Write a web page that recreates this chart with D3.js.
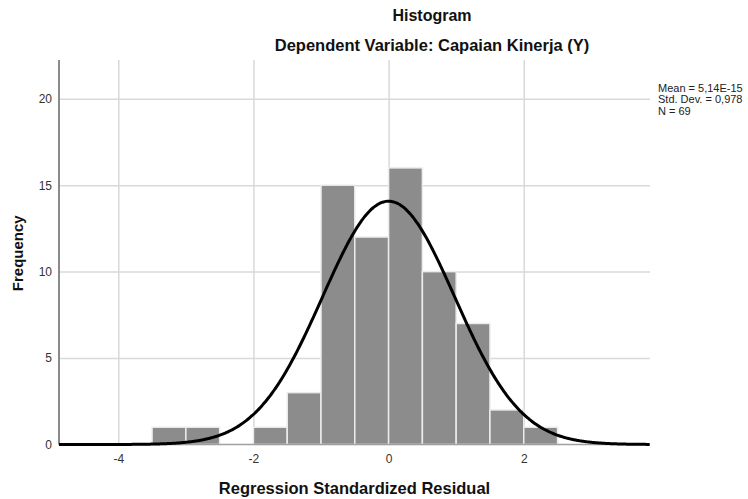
<!DOCTYPE html>
<html>
<head>
<meta charset="utf-8">
<script src="https://cdn.jsdelivr.net/npm/d3@7"></script>
<style>
  body { margin: 0; background: #fff; }
  text { font-family: "Liberation Sans", Arial, sans-serif; }
  .grid line { stroke: #d9d9d9; stroke-width: 1.5; }
  .grid path { display: none; }
  .tick text { fill: #333; font-size: 12px; }
</style>
</head>
<body>
<div class="graph"></div>
<script>
// Histogram bins (lower edges) and counts
var binStarts = [-3.5, -3.0, -2.5, -2.0, -1.5, -1.0, -0.5, 0.0, 0.5, 1.0, 1.5, 2.0];
var binCounts = [1, 1, 0, 1, 3, 15, 12, 16, 10, 7, 2, 1];
var binWidth = 0.5;

// stats shown in the legend
var mean = 5.14e-15;
var stdDev = 0.978;
var n = 69;
var statLabels = ["Mean = 5,14E-15", "Std. Dev. = 0,978", "N = 69"];

var xTicks = [-4, -2, 0, 2];
var yTicks = [0, 5, 10, 15, 20];

var margin = {top: 60, right: 98, bottom: 54.5, left: 59};
var outer_width = 748;
var outer_height = 499;
var svg_width = outer_width - margin.left - margin.right;
var svg_height = outer_height - margin.top - margin.bottom;

var xScale = d3.scaleLinear()
  .domain([-4.877, 3.868])
  .range([0, svg_width]);

var yScale = d3.scaleLinear()
  .domain([0, 22.24])
  .range([svg_height, 0]);

var root = d3.select(".graph")
  .append("svg")
  .attr("width", outer_width)
  .attr("height", outer_height);

var svg = root.append("g")
  .attr("transform", "translate(" + margin.left + "," + margin.top + ")");

// gridlines
svg.append("g")
  .attr("class", "grid")
  .attr("transform", "translate(0," + svg_height + ")")
  .call(d3.axisBottom(xScale).tickValues(xTicks).tickSize(-svg_height).tickFormat(""));

svg.append("g")
  .attr("class", "grid")
  .call(d3.axisLeft(yScale).tickValues(yTicks.slice(1)).tickSize(-svg_width).tickFormat(""));

// bars
svg.selectAll(".bar")
  .data(binStarts)
  .enter()
  .append("rect")
  .attr("class", "bar")
  .filter(function(d, i) { return binCounts[i] > 0; })
  .attr("x", function(d) { return xScale(d); })
  .attr("width", function(d) { return xScale(d + binWidth) - xScale(d); })
  .attr("y", function(d) { return yScale(binCounts[binStarts.indexOf(d)]); })
  .attr("height", function(d) { return svg_height - yScale(binCounts[binStarts.indexOf(d)]); })
  .style("fill", "#8c8c8c")
  .style("stroke", "#ececec")
  .style("stroke-width", 1.5);

// axis lines
svg.append("line")
  .attr("x1", 0).attr("x2", svg_width)
  .attr("y1", svg_height).attr("y2", svg_height)
  .style("stroke", "#a0a0a0")
  .style("stroke-width", 1.5);

svg.append("line")
  .attr("x1", 0).attr("x2", 0)
  .attr("y1", 0).attr("y2", svg_height)
  .style("stroke", "#8a8a8a")
  .style("stroke-width", 2);

// normal curve from mean / sd / N
var curveX = d3.range(xScale.domain()[0], xScale.domain()[1] + 0.001, 0.02);
var line = d3.line()
  .x(function(d) { return xScale(d); })
  .y(function(d) {
    var z = (d - mean) / stdDev;
    return yScale(n * binWidth * Math.exp(-0.5 * z * z) / (stdDev * Math.sqrt(2 * Math.PI)));
  })
  .curve(d3.curveBasis);

svg.append("path")
  .datum(curveX)
  .attr("d", line)
  .style("fill", "none")
  .style("stroke", "#000")
  .style("stroke-width", 3);

// tick labels (plain hyphen like the original)
var xAxis = svg.append("g")
  .attr("transform", "translate(0," + svg_height + ")")
  .call(d3.axisBottom(xScale).tickValues(xTicks).tickSize(0).tickPadding(10)
    .tickFormat(function(d) { return String(d); }));
xAxis.select(".domain").remove();

var yAxis = svg.append("g")
  .call(d3.axisLeft(yScale).tickValues(yTicks).tickSize(0).tickPadding(7));
yAxis.select(".domain").remove();

// titles
root.append("text")
  .attr("x", 432).attr("y", 21)
  .attr("text-anchor", "middle")
  .style("font-size", "16px").style("font-weight", "bold").style("fill", "#111")
  .text("Histogram");

root.append("text")
  .attr("x", 432).attr("y", 51)
  .attr("text-anchor", "middle")
  .style("font-size", "16.5px").style("font-weight", "bold").style("fill", "#111")
  .text("Dependent Variable: Capaian Kinerja (Y)");

root.append("text")
  .attr("transform", "translate(23," + (margin.top + svg_height / 2 + 1) + ") rotate(-90)")
  .attr("text-anchor", "middle")
  .style("font-size", "15px").style("font-weight", "bold").style("fill", "#111")
  .text("Frequency");

root.append("text")
  .attr("x", margin.left + svg_width / 2)
  .attr("y", 494)
  .attr("text-anchor", "middle")
  .style("font-size", "16.5px").style("font-weight", "bold").style("fill", "#111")
  .text("Regression Standardized Residual");

// stats box
root.selectAll(".stat")
  .data(statLabels)
  .enter()
  .append("text")
  .attr("class", "stat")
  .attr("x", 658)
  .attr("y", function(d, i) { return 91.5 + i * 11.6; })
  .style("font-size", "11px").style("fill", "#222")
  .text(function(d) { return d; });
</script>
</body>
</html>
